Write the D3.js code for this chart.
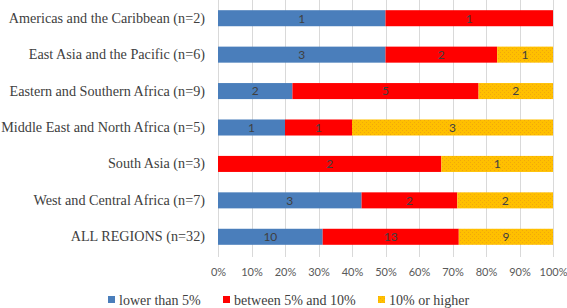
<!DOCTYPE html>
<html>
<head>
<meta charset="utf-8">
<script src="https://cdn.jsdelivr.net/npm/d3@7"></script>
<style>
  body { margin: 0; background: #fff; }
  svg { display: block; }
</style>
</head>
<body>
<div id="chart"></div>
<script>
var regions = [
  "Americas and the Caribbean (n=2)",
  "East Asia and the Pacific (n=6)",
  "Eastern and Southern Africa (n=9)",
  "Middle East and North Africa (n=5)",
  "South Asia (n=3)",
  "West and Central Africa (n=7)",
  "ALL REGIONS (n=32)"
];
var seriesNames = ["lower than 5%", "between 5% and 10%", "10% or higher"];
var lowerThan5 = [1, 3, 2, 1, 0, 3, 10];
var between5and10 = [1, 2, 5, 1, 2, 2, 13];
var higher10 = [0, 1, 2, 3, 1, 2, 9];
var tickValues = [0, 0.1, 0.2, 0.3, 0.4, 0.5, 0.6, 0.7, 0.8, 0.9, 1];
var colours = ["#4a7ebb", "#ff0000", "#ffc000"];

var serifFont = "Liberation Serif";
var sansFont = "Lato";

var width = 567;
var height = 308;
var margin = { top: 0, left: 218, right: 14, bottom: 53 };

var rows = regions.map(function (r, i) {
  return { region: r, s0: lowerThan5[i], s1: between5and10[i], s2: higher10[i] };
});

var stack = d3.stack().keys(["s0", "s1", "s2"])
  .offset(d3.stackOffsetExpand);
var layers = stack(rows);

var x = d3.scaleLinear().domain([0, 1]).range([margin.left, width - margin.right]);
var y = d3.scaleBand().domain(regions).range([margin.top, height - margin.bottom]).paddingInner(0.56).paddingOuter(0.28);

var svg = d3.select("#chart").append("svg")
  .attr("width", width)
  .attr("height", height);

// yellow gets the faint dotted fill, the others stay flat
var defs = svg.append("defs");
var pat = defs.append("pattern")
  .attr("id", "patYellow")
  .attr("patternUnits", "userSpaceOnUse")
  .attr("width", 4).attr("height", 4);
pat.append("rect").attr("width", 4).attr("height", 4).attr("fill", colours[2]);
pat.append("rect").attr("x", 0).attr("y", 0).attr("width", 1).attr("height", 1)
  .attr("fill", "#e08a1a").attr("opacity", 0.45);
pat.append("rect").attr("x", 2).attr("y", 2).attr("width", 1).attr("height", 1)
  .attr("fill", "#e08a1a").attr("opacity", 0.45);

function fillFor(i) {
  return i == 2 ? "url(#patYellow)" : colours[i];
}

// gridlines
svg.append("g")
  .selectAll("line")
  .data(tickValues)
  .join("line")
  .attr("x1", function (d) { return Math.round(x(d)) + 0.5; })
  .attr("x2", function (d) { return Math.round(x(d)) + 0.5; })
  .attr("y1", margin.top)
  .attr("y2", height - margin.bottom + 2)
  .attr("stroke", "#d9d9d9")
  .attr("stroke-width", 1);

// x axis labels
var xAxis = d3.axisBottom(x).tickValues(tickValues).tickSize(0)
  .tickFormat(d3.format(".0%"));
svg.append("g")
  .attr("transform", "translate(0," + (height - margin.bottom + 10) + ")")
  .call(xAxis)
  .call(function (g) { g.select(".domain").remove(); })
  .attr("font-family", sansFont)
  .attr("font-size", 11)
  .selectAll("text")
  .attr("fill", "#595959");

// y axis labels
var yAxis = d3.axisLeft(y).tickSize(0).tickPadding(13);
svg.append("g")
  .attr("transform", "translate(" + margin.left + ",0)")
  .call(yAxis)
  .call(function (g) { g.select(".domain").remove(); })
  .attr("font-family", serifFont)
  .attr("font-size", 14.2)
  .selectAll("text")
  .attr("fill", "#404040");

// bars
var groups = svg.append("g")
  .selectAll("g")
  .data(layers)
  .join("g")
  .attr("fill", function (d, i) { return fillFor(i); });

groups.selectAll("rect")
  .data(function (d) { return d; })
  .join("rect")
  .attr("x", function (d) { return x(d[0]); })
  .attr("y", function (d) { return y(d.data.region); })
  .attr("width", function (d) { return x(d[1]) - x(d[0]); })
  .attr("height", y.bandwidth());

// value labels
layers.forEach(function (layer) {
  svg.append("g")
    .selectAll("text")
    .data(layer.filter(function (d) { return d[1] - d[0] > 0; }))
    .join("text")
    .attr("x", function (d) { return (x(d[0]) + x(d[1])) / 2; })
    .attr("y", function (d) { return y(d.data.region) + y.bandwidth() / 2; })
    .attr("dy", "0.36em")
    .attr("text-anchor", "middle")
    .attr("font-family", sansFont)
    .attr("font-size", 12)
    .attr("fill", "#404040")
    .text(function (d) { return d.data[layer.key]; });
});

// legend
var legendX = [108, 223, 378];
var legend = svg.append("g")
  .selectAll("g")
  .data(seriesNames)
  .join("g")
  .attr("transform", function (d, i) { return "translate(" + legendX[i] + "," + 300 + ")"; });

legend.append("rect")
  .attr("x", 0).attr("y", -4)
  .attr("width", 7).attr("height", 7)
  .attr("fill", function (d, i) { return fillFor(i); });

legend.append("text")
  .attr("x", 11)
  .attr("y", 0)
  .attr("dy", "0.35em")
  .attr("font-family", serifFont)
  .attr("font-size", 14)
  .attr("fill", "#404040")
  .text(function (d) { return d; });
</script>
</body>
</html>
